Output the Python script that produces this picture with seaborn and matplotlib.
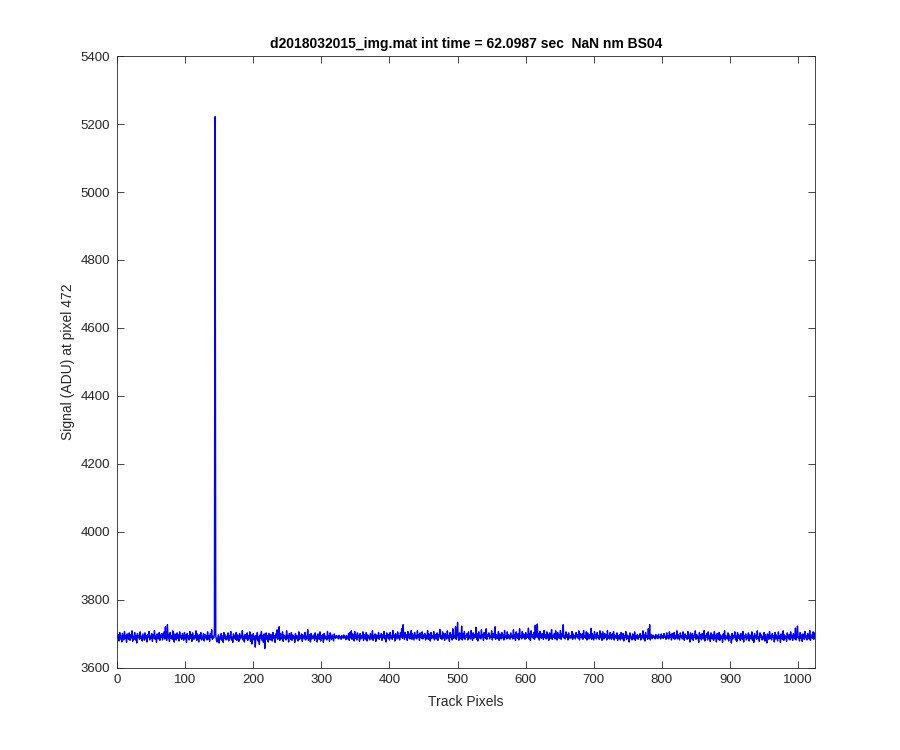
import matplotlib
matplotlib.use("Agg")
import matplotlib.pyplot as plt
import numpy as np
import seaborn as sns

# signal, one value per track pixel (1..1024)
signal = [
    3687, 3697, 3678, 3703, 3684, 3693, 3675, 3700, 3689, 3681, 3706, 3686, 3694, 3674, 3699, 3690,
    3683, 3702, 3680, 3696, 3687, 3708, 3677, 3692, 3684, 3703, 3681, 3694, 3672, 3700, 3689, 3693,
    3683, 3705, 3686, 3692, 3678, 3699, 3690, 3680, 3702, 3684, 3694, 3675, 3697, 3689, 3706, 3681,
    3693, 3686, 3700, 3677, 3696, 3687, 3709, 3683, 3692, 3674, 3699, 3690, 3684, 3703, 3680, 3696,
    3689, 3700, 3681, 3693, 3705, 3684, 3720, 3690, 3680, 3726, 3687, 3697, 3677, 3703, 3686, 3694,
    3683, 3708, 3689, 3675, 3699, 3692, 3681, 3702, 3686, 3696, 3678, 3705, 3687, 3693, 3683, 3700,
    3690, 3680, 3703, 3684, 3696, 3674, 3700, 3687, 3693, 3681, 3706, 3686, 3697, 3677, 3702, 3690,
    3683, 3694, 3687, 3708, 3680, 3699, 3689, 3675, 3696, 3686, 3703, 3681, 3692, 3684, 3700, 3678,
    3697, 3687, 3693, 3681, 3705, 3684, 3694, 3677, 3700, 3689, 3711, 3683, 3692, 3687, 3697, 5222,
    3693, 3680, 3675, 3689, 3696, 3672, 3690, 3684, 3700, 3680, 3693, 3674, 3703, 3686, 3696, 3681,
    3692, 3684, 3702, 3678, 3694, 3687, 3706, 3681, 3690, 3674, 3699, 3686, 3693, 3683, 3703, 3680,
    3696, 3689, 3677, 3700, 3684, 3694, 3687, 3709, 3681, 3692, 3675, 3697, 3689, 3684, 3702, 3680,
    3693, 3686, 3705, 3677, 3696, 3669, 3689, 3700, 3681, 3692, 3660, 3694, 3684, 3703, 3678, 3690,
    3668, 3696, 3687, 3706, 3680, 3693, 3674, 3699, 3656, 3689, 3702, 3683, 3694, 3675, 3700, 3687,
    3681, 3697, 3690, 3678, 3703, 3686, 3694, 3674, 3699, 3687, 3711, 3683, 3693, 3720, 3680, 3700,
    3689, 3684, 3705, 3677, 3696, 3687, 3692, 3681, 3708, 3686, 3694, 3675, 3700, 3690, 3683, 3703,
    3680, 3696, 3687, 3692, 3674, 3700, 3684, 3694, 3689, 3678, 3705, 3683, 3693, 3687, 3699, 3677,
    3696, 3690, 3684, 3703, 3681, 3692, 3686, 3712, 3680, 3697, 3689, 3675, 3700, 3684, 3693, 3687,
    3696, 3680, 3702, 3686, 3692, 3675, 3699, 3689, 3683, 3705, 3678, 3694, 3687, 3697, 3674, 3700,
    3684, 3693, 3689, 3681, 3706, 3686, 3694, 3677, 3702, 3690, 3683, 3696, 3687, 3678, 3699, 3689,
    3686, 3694, 3688, 3692, 3684, 3695, 3687, 3691, 3683, 3694, 3689, 3686, 3696, 3687, 3692, 3682,
    3694, 3689, 3684, 3700, 3680, 3703, 3687, 3708, 3683, 3699, 3690, 3678, 3706, 3686, 3696, 3681,
    3702, 3689, 3693, 3677, 3700, 3684, 3694, 3687, 3705, 3680, 3697, 3690, 3683, 3703, 3678, 3696,
    3687, 3692, 3681, 3700, 3689, 3684, 3708, 3680, 3694, 3687, 3699, 3677, 3696, 3690, 3686, 3703,
    3683, 3693, 3689, 3700, 3680, 3696, 3687, 3706, 3684, 3694, 3675, 3702, 3690, 3686, 3697, 3681,
    3703, 3687, 3693, 3683, 3709, 3689, 3696, 3678, 3700, 3692, 3684, 3705, 3687, 3694, 3681, 3702,
    3690, 3714, 3686, 3726, 3693, 3683, 3703, 3689, 3696, 3680, 3706, 3687, 3699, 3684, 3693, 3709,
    3683, 3700, 3690, 3681, 3703, 3687, 3694, 3684, 3708, 3689, 3697, 3680, 3702, 3692, 3686, 3705,
    3684, 3696, 3689, 3700, 3681, 3693, 3687, 3709, 3683, 3699, 3690, 3678, 3703, 3686, 3694, 3687,
    3706, 3681, 3697, 3689, 3684, 3702, 3680, 3696, 3690, 3712, 3686, 3693, 3683, 3705, 3687, 3699,
    3680, 3700, 3690, 3684, 3708, 3687, 3694, 3677, 3703, 3689, 3697, 3681, 3714, 3686, 3693, 3687,
    3720, 3683, 3696, 3733, 3689, 3680, 3702, 3690, 3684, 3722, 3681, 3699, 3687, 3706, 3683, 3694,
    3689, 3700, 3681, 3705, 3687, 3693, 3684, 3709, 3690, 3680, 3702, 3686, 3696, 3689, 3718, 3683,
    3699, 3678, 3705, 3687, 3693, 3684, 3711, 3689, 3697, 3680, 3703, 3690, 3686, 3714, 3683, 3696,
    3692, 3702, 3684, 3694, 3689, 3708, 3681, 3700, 3690, 3687, 3720, 3683, 3697, 3693, 3686, 3706,
    3680, 3699, 3690, 3684, 3703, 3687, 3696, 3681, 3709, 3689, 3693, 3684, 3705, 3686, 3697, 3690,
    3683, 3702, 3689, 3694, 3684, 3711, 3687, 3697, 3680, 3705, 3690, 3686, 3700, 3681, 3714, 3689,
    3693, 3684, 3706, 3687, 3699, 3690, 3683, 3703, 3686, 3696, 3689, 3716, 3684, 3700, 3680, 3708,
    3690, 3697, 3686, 3703, 3683, 3724, 3689, 3694, 3728, 3687, 3699, 3681, 3706, 3690, 3686, 3700,
    3693, 3683, 3709, 3689, 3696, 3684, 3705, 3687, 3697, 3680, 3702, 3692, 3686, 3712, 3683, 3694,
    3689, 3700, 3684, 3708, 3690, 3681, 3703, 3687, 3696, 3686, 3709, 3683, 3699, 3690, 3726, 3687,
    3694, 3684, 3705, 3689, 3697, 3681, 3702, 3690, 3686, 3694, 3687, 3706, 3683, 3699, 3689, 3693,
    3684, 3703, 3690, 3696, 3686, 3708, 3681, 3700, 3692, 3687, 3699, 3683, 3709, 3689, 3694, 3686,
    3705, 3681, 3702, 3690, 3684, 3697, 3687, 3715, 3683, 3700, 3690, 3681, 3706, 3687, 3696, 3684,
    3703, 3689, 3694, 3683, 3708, 3687, 3699, 3680, 3705, 3690, 3684, 3700, 3689, 3696, 3681, 3709,
    3687, 3693, 3684, 3703, 3690, 3683, 3699, 3687, 3706, 3681, 3696, 3689, 3686, 3702, 3680, 3694,
    3687, 3697, 3681, 3703, 3690, 3684, 3700, 3678, 3694, 3689, 3706, 3683, 3696, 3686, 3693, 3675,
    3702, 3687, 3692, 3681, 3699, 3689, 3684, 3705, 3680, 3694, 3687, 3697, 3683, 3693, 3689, 3700,
    3681, 3694, 3687, 3708, 3684, 3696, 3678, 3703, 3689, 3692, 3683, 3714, 3686, 3726, 3681, 3697,
    3690, 3685, 3695, 3689, 3692, 3684, 3697, 3687, 3693, 3685, 3698, 3689, 3690, 3684, 3699, 3687,
    3693, 3686, 3700, 3689, 3692, 3683, 3702, 3687, 3694, 3684, 3705, 3689, 3696, 3681, 3700, 3690,
    3686, 3703, 3683, 3694, 3687, 3708, 3684, 3697, 3689, 3681, 3702, 3690, 3694, 3684, 3705, 3687,
    3680, 3699, 3689, 3693, 3683, 3706, 3686, 3696, 3675, 3702, 3690, 3684, 3700, 3680, 3694, 3689,
    3708, 3683, 3697, 3687, 3692, 3674, 3703, 3686, 3696, 3681, 3700, 3690, 3684, 3709, 3678, 3694,
    3689, 3700, 3681, 3705, 3686, 3693, 3677, 3702, 3690, 3684, 3697, 3680, 3706, 3687, 3694, 3675,
    3700, 3689, 3683, 3703, 3680, 3696, 3687, 3692, 3674, 3699, 3686, 3708, 3681, 3694, 3689, 3684,
    3702, 3678, 3696, 3687, 3690, 3672, 3700, 3684, 3694, 3689, 3705, 3681, 3693, 3677, 3703, 3686,
    3696, 3690, 3680, 3700, 3687, 3683, 3706, 3675, 3694, 3689, 3699, 3681, 3692, 3686, 3702, 3678,
    3696, 3689, 3684, 3705, 3680, 3693, 3674, 3700, 3687, 3694, 3683, 3708, 3686, 3690, 3677, 3702,
    3689, 3696, 3681, 3692, 3684, 3703, 3678, 3697, 3687, 3672, 3699, 3690, 3683, 3706, 3686, 3694,
    3681, 3700, 3689, 3693, 3675, 3703, 3684, 3696, 3687, 3678, 3705, 3686, 3694, 3674, 3699, 3689,
    3683, 3708, 3680, 3696, 3687, 3692, 3677, 3702, 3690, 3684, 3697, 3681, 3705, 3687, 3693, 3680,
    3700, 3689, 3684, 3716, 3681, 3694, 3722, 3687, 3690, 3678, 3703, 3686, 3696, 3677, 3699, 3689,
    3683, 3706, 3687, 3693, 3681, 3700, 3690, 3684, 3709, 3680, 3696, 3689, 3686, 3705, 3683, 3702,
]
pixels = np.arange(1, len(signal) + 1)

x_ticks = list(range(0, 1001, 100))
y_ticks = list(range(3600, 5401, 200))
title = "d2018032015_img.mat int time = 62.0987 sec  NaN nm BS04"

sns.set_style("ticks")
plt.rcParams["font.family"] = ["Liberation Sans", "DejaVu Sans"]
ink = "#262626"

fig = plt.figure(figsize=(9, 7.5), dpi=100)
ax = fig.add_axes([0.13, 0.11, 0.775, 0.815])

sns.lineplot(x=pixels, y=signal, ax=ax, color="#0000ff", linewidth=1.0,
             estimator=None, sort=False)

ax.set_xlim(0, 1024)
ax.set_ylim(3600, 5400)
ax.set_xticks(x_ticks)
ax.set_yticks(y_ticks)
ax.tick_params(direction="in", length=5, width=0.6, top=True, right=True,
               labelsize=9.5, colors=ink, pad=5)
for s in ax.spines.values():
    s.set_visible(True)
    s.set_color(ink)
    s.set_linewidth(0.6)

ax.set_xlabel("Track Pixels", fontsize=10, color=ink, labelpad=6)
ax.set_ylabel("Signal (ADU) at pixel 472", fontsize=10, color=ink, labelpad=4)
ax.set_title(title, fontsize=10, fontweight="bold", color="black", pad=6)

fig.savefig("out.png", dpi=100)
